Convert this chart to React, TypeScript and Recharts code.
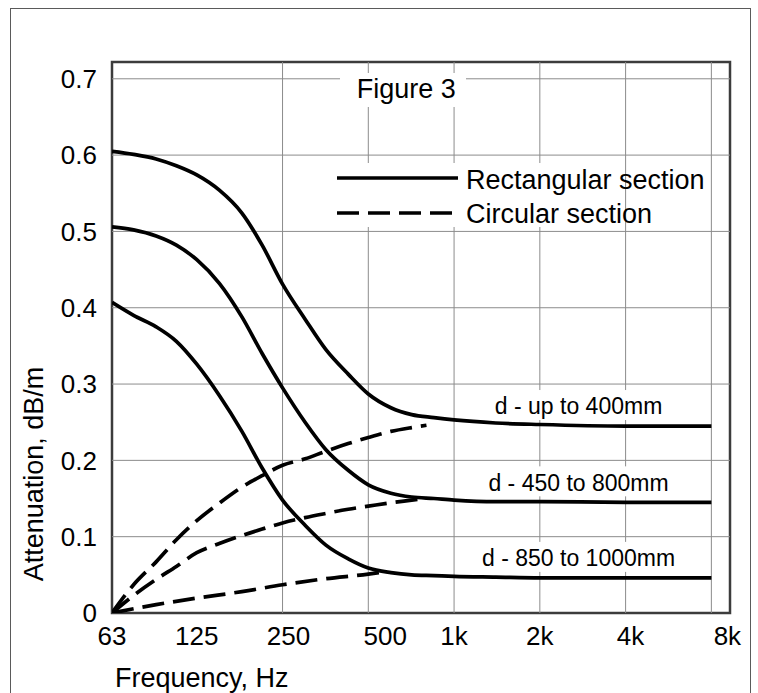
import React from 'react';
import { LineChart, Line, XAxis, YAxis, ReferenceLine, ReferenceDot, ReferenceArea, Legend } from 'recharts';

const FONT = '"Liberation Sans", Arial, Helvetica, sans-serif';

// Axis ticks
const freqTicks = [63, 125, 250, 500, 1000, 2000, 4000, 8000];
const freqTickLabels = ['63', '125', '250', '500', '1k', '2k', '4k', '8k'];
const gridFreqs = [250, 500, 1000, 2000, 4000, 8000];
const attenTicks = [0, 0.1, 0.2, 0.3, 0.4, 0.5, 0.6, 0.7];
const attenGrid = [0.1, 0.2, 0.3, 0.4, 0.5, 0.6, 0.7];

const seriesNames = ['Rectangular section', 'Circular section'];
const sizeLabels = ['d - up to 400mm', 'd - 450 to 800mm', 'd - 850 to 1000mm'];
const sizeLabelFreq = 2735;

// Frequencies at which the solid (rectangular) curves were read
const rectFreq = [63, 75, 90, 106, 125, 150, 180, 212, 250, 300, 355, 425, 500, 600, 710, 850, 1000, 1400, 2000, 4000, 8000];
// Rectangular section (solid)
const rectVal400 = [0.605, 0.601, 0.595, 0.586, 0.574, 0.554, 0.524, 0.482, 0.431, 0.385, 0.345, 0.313, 0.287, 0.269, 0.260, 0.256, 0.253, 0.249, 0.247, 0.245, 0.245];
const rectVal800 = [0.506, 0.502, 0.494, 0.482, 0.463, 0.432, 0.388, 0.340, 0.295, 0.250, 0.214, 0.187, 0.168, 0.157, 0.152, 0.150, 0.148, 0.146, 0.146, 0.145, 0.145];
const rectVal1000 = [0.407, 0.390, 0.375, 0.356, 0.326, 0.285, 0.238, 0.190, 0.148, 0.115, 0.089, 0.071, 0.059, 0.053, 0.050, 0.049, 0.048, 0.047, 0.046, 0.046, 0.046];

// Circular section (dashed)
const circFreq400 = [63, 75, 90, 106, 125, 150, 180, 212, 250, 300, 355, 425, 500, 600, 710, 800];
const circVal400 = [0, 0.037, 0.067, 0.096, 0.121, 0.144, 0.165, 0.180, 0.1935, 0.202, 0.212, 0.222, 0.230, 0.238, 0.243, 0.246];
const circFreq800 = [63, 75, 90, 106, 125, 150, 180, 212, 250, 300, 355, 425, 500, 600, 710, 800];
const circVal800 = [0, 0.023, 0.044, 0.061, 0.079, 0.091, 0.1015, 0.110, 0.118, 0.125, 0.1305, 0.136, 0.140, 0.1445, 0.148, 0.150];
const circFreq1000 = [63, 90, 125, 180, 250, 355, 500, 570];
const circVal1000 = [0, 0.011, 0.0195, 0.028, 0.037, 0.045, 0.051, 0.054];

const toPoints = (fs: number[], vs: number[]) => fs.map((f, i) => ({ f, v: vs[i] }));

const rectSeries = [
  toPoints(rectFreq, rectVal400),
  toPoints(rectFreq, rectVal800),
  toPoints(rectFreq, rectVal1000),
];
const circSeries = [
  toPoints(circFreq400, circVal400),
  toPoints(circFreq800, circVal800),
  toPoints(circFreq1000, circVal1000),
];

const tickShift: Record<number, number> = { 250: 6, 500: 17, 4000: 5, 8000: 16 };
const GRID = '#8c8c8c';
const DASH = '22 9';
const SW = 3.7;

const XTick = (props: any) => {
  const { x, y, payload } = props;
  const i = freqTicks.indexOf(payload.value);
  const shift = tickShift[payload.value] || 0;
  return (
    <text x={x + shift} y={y} dy="0.71em" textAnchor="middle" fontSize={26} fontFamily={FONT} fill="#000">
      {freqTickLabels[i]}
    </text>
  );
};

const YTick = (props: any) => {
  const { x, y, payload } = props;
  const v = payload.value;
  return (
    <text x={x} y={y} dy="0.355em" textAnchor="end" fontSize={26} fontFamily={FONT} fill="#000">
      {v === 0 ? '0' : v.toFixed(1)}
    </text>
  );
};

const makeSizeLabel = (text: string) => (props: any) => {
  const vb = props.viewBox || {};
  const cx = vb.x + (vb.width || 0) / 2;
  const cy = vb.y + (vb.height || 0) / 2 - 20;
  const w = text.length * 12 + 8;
  return (
    <g>
      <rect x={cx - w / 2} y={cy - 16} width={w} height={30} fill="#fff" />
      <text x={cx} y={cy} dy="0.355em" textAnchor="middle" fontSize={23} fontFamily={FONT} fill="#000">
        {text}
      </text>
    </g>
  );
};

const LegendBox = () => (
  <svg width={420} height={175} style={{ overflow: 'visible', display: 'block' }}>
    <rect x={5} y={13} width={126} height={34} fill="#fff" />
    <text x={21.7} y={38} fontSize={27} fontFamily={FONT} fill="#000">Figure 3</text>
    <rect x={0} y={103} width={285} height={64} fill="#fff" />
    <line x1={2} x2={123} y1={118} y2={118} stroke="#000" strokeWidth={SW} />
    <line x1={2} x2={123} y1={153} y2={153} stroke="#000" strokeWidth={SW} strokeDasharray={DASH} />
    <text x={131} y={128.5} fontSize={27} fontFamily={FONT} fill="#000">{seriesNames[0]}</text>
    <text x={131} y={163} fontSize={27} fontFamily={FONT} fill="#000">{seriesNames[1]}</text>
  </svg>
);

const XTitle = (props: any) => {
  const vb = props.viewBox || {};
  return (
    <text x={vb.x + 3} y={vb.y + 74} fontSize={27} fontFamily={FONT} fill="#000">Frequency, Hz</text>
  );
};

const YTitle = (props: any) => {
  const vb = props.viewBox || {};
  const x = vb.x + 43;
  const y = vb.y + vb.height - 139;
  return (
    <text x={x} y={y} transform={`rotate(-90, ${x}, ${y})`} textAnchor="middle" fontSize={27} fontFamily={FONT} fill="#000">
      Attenuation, dB/m
    </text>
  );
};

export default function App() {
  return (
    <div style={{ position: 'fixed', left: 0, top: 0, width: 758, height: 693, overflow: 'hidden', background: '#fff' }}>
      <div style={{ position: 'absolute', left: 10, top: 8, width: 741, height: 720, border: '1.5px solid #5a5a5a', boxSizing: 'border-box' }} />
      <div style={{ position: 'absolute', left: 0, top: 0 }}>
        <LineChart width={758} height={693} margin={{ top: 62, right: 28, bottom: 0, left: 0 }}>
          <XAxis
            dataKey="f"
            type="number"
            scale="log"
            domain={[63, 9300]}
            allowDataOverflow
            ticks={freqTicks}
            tick={<XTick />}
            tickLine={false}
            axisLine={false}
            tickSize={0}
            tickMargin={14}
            height={80}
            interval={0}
            label={{ content: <XTitle /> }}
          />
          <YAxis
            dataKey="v"
            type="number"
            domain={[0, 0.722]}
            allowDataOverflow
            ticks={attenTicks}
            tick={<YTick />}
            tickLine={false}
            axisLine={false}
            tickSize={0}
            tickMargin={15}
            width={112}
            interval={0}
            label={{ content: <YTitle /> }}
          />
          {attenGrid.map((g) => (
            <ReferenceLine key={'h' + g} y={g} stroke={GRID} strokeWidth={1} />
          ))}
          {gridFreqs.map((g) => (
            <ReferenceLine key={'v' + g} x={g} stroke={GRID} strokeWidth={1} />
          ))}
          {rectSeries.map((d, i) => (
            <Line
              key={'r' + i}
              data={d}
              dataKey="v"
              type="monotone"
              stroke="#000"
              strokeWidth={SW}
              dot={false}
              activeDot={false}
              isAnimationActive={false}
              name={seriesNames[0]}
            />
          ))}
          {circSeries.map((d, i) => (
            <Line
              key={'c' + i}
              data={d}
              dataKey="v"
              type="monotone"
              stroke="#000"
              strokeWidth={SW}
              strokeDasharray={DASH}
              dot={false}
              activeDot={false}
              isAnimationActive={false}
              name={seriesNames[1]}
            />
          ))}
          {rectSeries.map((d, i) => (
            <ReferenceDot
              key={'l' + i}
              x={sizeLabelFreq}
              y={d[d.length - 1].v}
              r={1}
              fill="none"
              stroke="none"
              label={{ content: makeSizeLabel(sizeLabels[i]) }}
            />
          ))}
          <ReferenceArea
            x1={63}
            x2={9300}
            y1={0}
            y2={0.722}
            ifOverflow="visible"
            fill="none"
            fillOpacity={0}
            stroke="#3c3c3c"
            strokeWidth={2.5}
          />
          <Legend
            verticalAlign="middle"
            align="center"
            layout="horizontal"
            wrapperStyle={{ left: 335, top: 60, width: 420, height: 175 }}
            content={() => <LegendBox />}
          />
        </LineChart>
      </div>
    </div>
  );
}
